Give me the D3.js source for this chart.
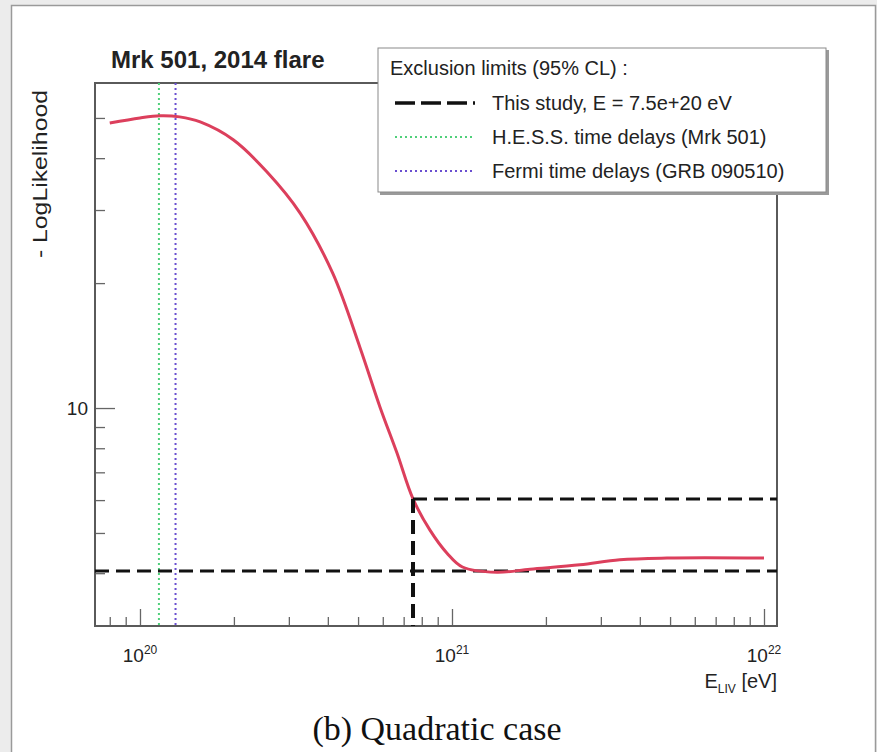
<!DOCTYPE html>
<meta charset="utf-8">
<script src="https://d3js.org/d3.v7.js"></script>
<style>
  body { margin: 0; background: #ececec; }
  text { font-family: "Liberation Sans", Arial, sans-serif; fill: #222; }
</style>
<div id="my_dataviz"></div>
<script>

// likelihood scan, E_LIV in eV vs -log L
var energy = [8.0e19, 1.0e20, 1.16e20, 1.34e20, 1.56e20, 1.99e20, 2.55e20, 3.26e20, 4.15e20,
              5.07e20, 5.88e20, 6.66e20, 7.5e20, 8.5e20, 9.64e20, 1.08e21, 1.39e21, 1.78e21,
              2.57e21, 3.45e21, 4.89e21, 1.0e22];
var likelihood = [48.6, 50.0, 50.6, 50.3, 48.9, 44.3, 37.1, 29.5, 21.1,
                  14.0, 10.05, 7.8, 6.04, 5.08, 4.47, 4.14, 4.02, 4.09,
                  4.19, 4.31, 4.35, 4.35];

var limitE = 7.5e20;      // this study
var hessE = 1.15e20;      // H.E.S.S. time delays
var fermiE = 1.3e20;      // Fermi time delays
var minLevel = 4.05, limitLevel = 6.04;

var legendLabels = ["This study, E = 7.5e+20 eV", "H.E.S.S. time delays (Mrk 501)", "Fermi time delays (GRB 090510)"];
var xMajor = [1e20, 1e21, 1e22], xExp = ["20", "21", "22"];
var xMinor = [8e19, 9e19, 2e20, 3e20, 4e20, 5e20, 6e20, 7e20, 8e20, 9e20,
              2e21, 3e21, 4e21, 5e21, 6e21, 7e21, 8e21, 9e21];
var yMajor = [10];
var yMinor = [4, 5, 6, 7, 8, 9, 20, 30, 40, 50];

var W = 877, H = 752;
var frame = {left: 95, right: 777, top: 83, bottom: 626};

var svg = d3.select("#my_dataviz").append("svg")
    .attr("width", W).attr("height", H);

// white panel
svg.append("rect").attr("x", 11.5).attr("y", 5.5).attr("width", 864).attr("height", 770)
    .attr("fill", "white").attr("stroke", "#9a9a9a").attr("stroke-width", 1.5);

var x = d3.scaleLog().domain([7.175e19, 1.1007e22]).range([frame.left, frame.right]);
var y = d3.scaleLog().domain([2.984, 60.7]).range([frame.bottom, frame.top]);

// axes
var xAxisMinor = d3.axisBottom(x).tickValues(xMinor).tickSize(-9).tickFormat("");
var xAxisMajor = d3.axisBottom(x).tickValues(xMajor).tickSize(-17).tickFormat("");
var yAxisMinor = d3.axisLeft(y).tickValues(yMinor).tickSize(-10).tickFormat("");
var yAxisMajor = d3.axisLeft(y).tickValues(yMajor).tickSize(-20).tickFormat("");

[xAxisMinor, xAxisMajor].forEach(function(a) {
  svg.append("g").attr("class", "axis").attr("transform", "translate(0," + frame.bottom + ")").call(a);
});
[yAxisMinor, yAxisMajor].forEach(function(a) {
  svg.append("g").attr("class", "axis").attr("transform", "translate(" + frame.left + ",0)").call(a);
});
svg.selectAll(".axis .domain").remove();
svg.selectAll(".axis line").attr("stroke", "#666").attr("stroke-width", 1.3);

// frame
svg.append("rect").attr("x", frame.left).attr("y", frame.top)
    .attr("width", frame.right - frame.left).attr("height", frame.bottom - frame.top)
    .attr("fill", "none").attr("stroke", "#5a5a5a").attr("stroke-width", 2);

// x labels 10^n
xMajor.forEach(function(v, i) {
  var t = svg.append("text").attr("x", x(v)).attr("y", 662).attr("text-anchor", "middle")
      .style("font-size", "19px");
  t.append("tspan").text("10");
  t.append("tspan").attr("dy", -8).style("font-size", "12px").text(xExp[i]);
});
yMajor.forEach(function(v) {
  svg.append("text").attr("x", 88).attr("y", y(v) + 7).attr("text-anchor", "end")
      .style("font-size", "19px").text(v);
});

var xl = svg.append("text").attr("x", 777).attr("y", 688).attr("text-anchor", "end").style("font-size", "20px");
xl.append("tspan").text("E");
xl.append("tspan").attr("dy", 5).style("font-size", "12px").text("LIV");
xl.append("tspan").attr("dy", -5).text(" [eV]");

svg.append("text").attr("transform", "translate(47,90)rotate(-90)scale(1.24,1)").attr("text-anchor", "end")
    .style("font-size", "20px").text("- LogLikelihood");

svg.append("text").attr("x", 111).attr("y", 68).style("font-size", "24px").style("font-weight", "bold")
    .text("Mrk 501, 2014 flare");

// reference lines
svg.append("line").attr("x1", x(hessE)).attr("x2", x(hessE)).attr("y1", frame.top).attr("y2", frame.bottom)
    .attr("stroke", "#4fd07a").attr("stroke-width", 2).attr("stroke-dasharray", "2 3");
svg.append("line").attr("x1", x(fermiE)).attr("x2", x(fermiE)).attr("y1", frame.top).attr("y2", frame.bottom)
    .attr("stroke", "#6a4fd0").attr("stroke-width", 2).attr("stroke-dasharray", "2 3");

svg.append("line").attr("x1", frame.left).attr("x2", frame.right).attr("y1", y(minLevel)).attr("y2", y(minLevel))
    .attr("stroke", "#111").attr("stroke-width", 3).attr("stroke-dasharray", "14 7");

// curve
var line = d3.line().x(function(d, i) { return x(energy[i]); }).y(function(d) { return y(d); })
    .curve(d3.curveCatmullRom.alpha(0.5));
svg.append("path").datum(likelihood).attr("d", line)
    .attr("fill", "none").attr("stroke", "#dc3f5c").attr("stroke-width", 3);

svg.append("line").attr("x1", x(limitE)).attr("x2", frame.right).attr("y1", y(limitLevel)).attr("y2", y(limitLevel))
    .attr("stroke", "#111").attr("stroke-width", 3).attr("stroke-dasharray", "14 7");
svg.append("line").attr("x1", x(limitE)).attr("x2", x(limitE)).attr("y1", y(limitLevel)).attr("y2", frame.bottom)
    .attr("stroke", "#111").attr("stroke-width", 4).attr("stroke-dasharray", "14 7");

// legend
var lg = svg.append("g");
lg.append("rect").attr("x", 380).attr("y", 50).attr("width", 449).attr("height", 145).attr("fill", "#9a9a9a");
lg.append("rect").attr("x", 378).attr("y", 48).attr("width", 448).attr("height", 144)
    .attr("fill", "white").attr("stroke", "#8a8a8a").attr("stroke-width", 1);
lg.append("text").attr("x", 390).attr("y", 75).style("font-size", "20px").text("Exclusion limits (95% CL) :");

var legStyles = [
  {stroke: "#111", width: 3.5, dash: "20 6 20 6 20 6 2 40"},
  {stroke: "#4fd07a", width: 2, dash: "2 3"},
  {stroke: "#6a4fd0", width: 2, dash: "2 3"}
];
legendLabels.forEach(function(lab, i) {
  var by = 110 + i * 34;
  lg.append("line").attr("x1", 395).attr("x2", 475).attr("y1", by - 7).attr("y2", by - 7)
      .attr("stroke", legStyles[i].stroke).attr("stroke-width", legStyles[i].width)
      .attr("stroke-dasharray", legStyles[i].dash);
  lg.append("text").attr("x", 492).attr("y", by).style("font-size", "20px").text(lab);
});

// caption
svg.append("text").attr("x", 437).attr("y", 740).attr("text-anchor", "middle")
    .style("font-family", "'Liberation Serif', 'Times New Roman', serif").style("font-size", "34px")
    .style("fill", "#111").text("(b)  Quadratic case");

</script>
